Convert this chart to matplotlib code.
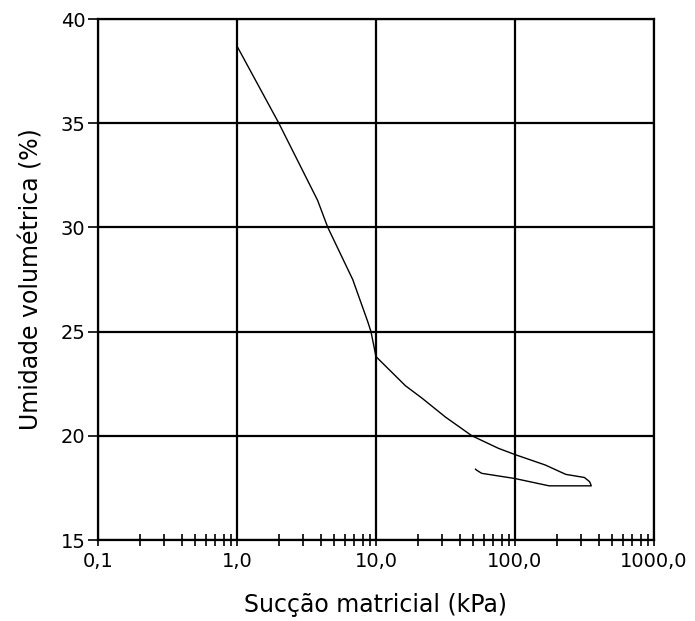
import matplotlib
matplotlib.use("Agg")
import matplotlib.pyplot as plt
from matplotlib.ticker import FixedLocator, FixedFormatter, LogLocator, NullFormatter

# Data
succao = [1.0, 2.0, 3.8, 4.5, 6.8, 8.7, 9.2, 10.0, 16.3, 21.5, 31.6, 49, 76, 100,
          165, 232, 316, 344, 354, 176, 100, 57.6, 53, 52]
umidade = [38.7, 35.0, 31.3, 30.0, 27.5, 25.5, 25.0, 23.8, 22.4, 21.8, 20.9, 20.0, 19.4, 19.1,
           18.6, 18.15, 18.0, 17.8, 17.6, 17.6, 17.95, 18.2, 18.35, 18.4]

x_ticks = [0.1, 1.0, 10.0, 100.0, 1000.0]
x_ticklabels = ["0,1", "1,0", "10,0", "100,0", "1000,0"]
y_ticks = [15, 20, 25, 30, 35, 40]
y_ticklabels = ["15", "20", "25", "30", "35", "40"]

plt.rcParams['font.family'] = ['DejaVu Sans']
fig = plt.figure(figsize=(6.95, 6.21), dpi=100)
ax = fig.add_axes([0.141, 0.1304, 0.800, 0.839])

ax.plot(succao, umidade, color="black", lw=1.0)

ax.set_xscale("log")
ax.set_xlim(0.1, 1000)
ax.set_ylim(15, 40)
ax.xaxis.set_major_locator(FixedLocator(x_ticks))
ax.xaxis.set_major_formatter(FixedFormatter(x_ticklabels))
ax.xaxis.set_minor_locator(LogLocator(base=10, subs=range(2, 10), numticks=20))
ax.xaxis.set_minor_formatter(NullFormatter())
ax.yaxis.set_major_locator(FixedLocator(y_ticks))
ax.yaxis.set_major_formatter(FixedFormatter(y_ticklabels))

ax.grid(True, which="major", color="black", lw=1.6)
for s in ax.spines.values():
    s.set_color("black")
    s.set_linewidth(1.6)

ax.tick_params(axis="x", which="major", direction="inout", length=9, width=1.2,
               labelsize=14, pad=4)
ax.tick_params(axis="x", which="minor", direction="inout", length=8, width=1.2)
ax.tick_params(axis="y", which="major", direction="out", length=7, width=1.2,
               labelsize=14, pad=2)

ax.set_xlabel("Sucção matricial (kPa)", fontsize=17, labelpad=16)
ax.set_ylabel("Umidade volumétrica (%)", fontsize=17, labelpad=12)

fig.savefig("out.png", dpi=100)
